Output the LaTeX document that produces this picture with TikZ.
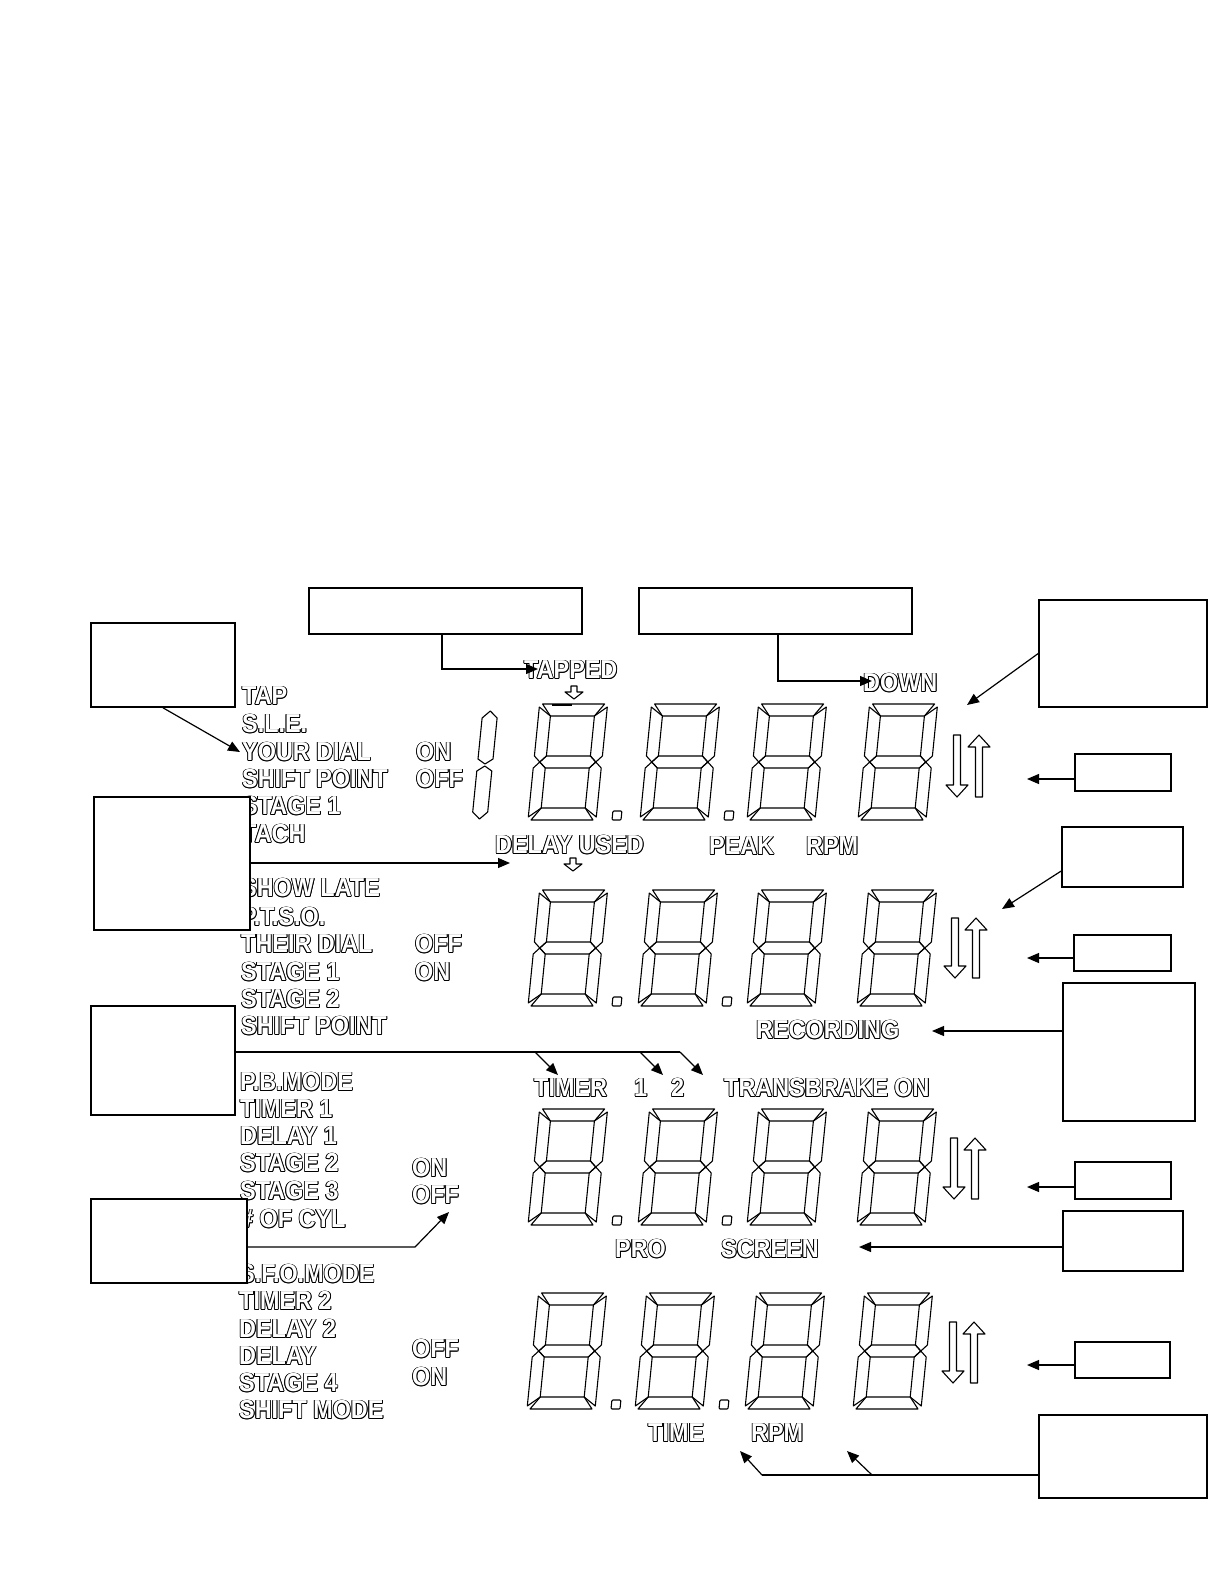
\documentclass[tikz,border=0pt]{standalone}
\usepackage{fontspec}
\usetikzlibrary{arrows.meta}
\newfontfamily\lcdfont[FakeStretch=0.9]{Liberation Sans}
\newcommand\olt[1]{{\setbox0\hbox{#1}%
\rlap{\kern-.9pt\copy0}\rlap{\kern.9pt\copy0}\rlap{\raise.9pt\copy0}\rlap{\raise-.9pt\copy0}%
\rlap{\kern-.65pt\raise.65pt\copy0}\rlap{\kern.65pt\raise.65pt\copy0}%
\rlap{\kern-.65pt\raise-.65pt\copy0}\rlap{\kern.65pt\raise-.65pt\copy0}%
\textcolor{white}{\copy0}}}
\tikzset{
  lcd/.style={font=\lcdfont\bfseries\fontsize{26}{26}\selectfont, anchor=west, inner sep=0pt, text height=17.9pt, text depth=0pt},
  seg/.style={line width=1.1pt, line join=round},
  box/.style={draw, line width=1.6pt, fill=white, inner sep=0pt},
  conn/.style={line width=1.2pt, -{Triangle[length=12pt,width=10pt]}},
  plain/.style={line width=1.2pt}
}
% seven segment digit, bottom-left at (#1,#2)
\newcommand\lcddig[2]{%
\begin{scope}[shift={(#1,#2)},xslant=0.1,yscale=-1]
\draw[seg] (3,116)--(65,116)--(56,104)--(12,104)--cycle;
\draw[seg] (3,0)--(65,0)--(56,12)--(12,12)--cycle;
\draw[seg] (0,113)--(12,104)--(12,64)--(6,58)--(0,64)--cycle;
\draw[seg] (68,113)--(56,104)--(56,64)--(62,58)--(68,64)--cycle;
\draw[seg] (0,3)--(12,12)--(12,52)--(6,58)--(0,52)--cycle;
\draw[seg] (68,3)--(56,12)--(56,52)--(62,58)--(68,52)--cycle;
\draw[seg] (6,58)--(12,64)--(56,64)--(62,58)--(56,52)--(12,52)--cycle;
\end{scope}}
\newcommand\lcddp[2]{%
\begin{scope}[shift={(#1,#2)},xslant=0.1,yscale=-1]
\draw[seg,rounded corners=1pt] (84,0) rectangle (93,9);
\end{scope}}
\newcommand\lcdone[2]{%
\begin{scope}[shift={(#1,#2)},xslant=0.1,yscale=-1]
\draw[seg] (7.5,108)--(15,101)--(15,60)--(7.5,55)--(0,60)--(0,101)--cycle;
\draw[seg] (7.5,53)--(15,48)--(15,7)--(7.5,0)--(0,7)--(0,48)--cycle;
\end{scope}}
% hollow down / up arrows: xdown, xup, ytop, ybottom
\newcommand\updn[4]{%
\draw[seg] (#1-3.5,#3)--(#1+3.5,#3)--(#1+3.5,#4-12)--(#1+11,#4-12)--(#1,#4)--(#1-11,#4-12)--(#1-3.5,#4-12)--cycle;
\draw[seg] (#2-3.5,#4)--(#2+3.5,#4)--(#2+3.5,#3+12)--(#2+11,#3+12)--(#2,#3)--(#2-11,#3+12)--(#2-3.5,#3+12)--cycle;}
\newcommand\smdn[2]{%
\draw[seg] (#1-3,#2)--(#1+3,#2)--(#1+3,#2+6)--(#1+9,#2+6)--(#1,#2+13)--(#1-9,#2+6)--(#1-3,#2+6)--cycle;}
\begin{document}
\begin{tikzpicture}[x=1pt,y=-1pt]
\useasboundingbox[fill=white] (0,0) rectangle (1224,1584);

% ---------- LCD digits ----------
\lcdone{472}{819}
\foreach \x in {528,640,747,858} {\lcddig{\x}{820}}
\lcddp{528}{820}\lcddp{640}{820}
\draw[line width=2.2pt] (552,705)--(572,705);
\updn{957}{979}{735}{797}

\foreach \x in {528,638,747,857} {\lcddig{\x}{1006}}
\lcddp{528}{1006}\lcddp{638}{1006}
\updn{955}{976}{918}{978}

\foreach \x in {528,638,747,857} {\lcddig{\x}{1225}}
\lcddp{528}{1225}\lcddp{638}{1225}
\updn{954}{975}{1138}{1199}

\foreach \x in {527,635,745,853} {\lcddig{\x}{1409}}
\lcddp{527}{1409}\lcddp{635}{1409}
\updn{953}{974}{1322}{1383}

\smdn{574}{686}
\smdn{573}{858}

% ---------- left lists ----------
\node[lcd] (l1a) at (242,696) {\olt{TAP}};
\node[lcd] (l1b) at (242,724) {\olt{S.L.E.}};
\node[lcd] (l1c) at (242,752) {\olt{YOUR DIAL}};
\node[lcd] (l1d) at (242,779) {\olt{SHIFT POINT}};
\node[lcd] (l1e) at (242,806) {\olt{STAGE 1}};
\node[lcd] (l1f) at (242,834) {\olt{TACH}};
\node[lcd] (o1a) at (416,752) {\olt{ON}};
\node[lcd] (o1b) at (416,779) {\olt{OFF}};

\node[lcd] (l2a) at (241,888) {\olt{SHOW LATE}};
\node[lcd] (l2b) at (241,917) {\olt{P.T.S.O.}};
\node[lcd] (l2c) at (241,944) {\olt{THEIR DIAL}};
\node[lcd] (l2d) at (241,972) {\olt{STAGE 1}};
\node[lcd] (l2e) at (241,999) {\olt{STAGE 2}};
\node[lcd] (l2f) at (241,1026) {\olt{SHIFT POINT}};
\node[lcd] (o2a) at (415,944) {\olt{OFF}};
\node[lcd] (o2b) at (415,972) {\olt{ON}};

\node[lcd] (l3a) at (240,1082) {\olt{P.B.MODE}};
\node[lcd] (l3b) at (240,1109) {\olt{TIMER 1}};
\node[lcd] (l3c) at (240,1136) {\olt{DELAY 1}};
\node[lcd] (l3d) at (240,1163) {\olt{STAGE 2}};
\node[lcd] (l3e) at (240,1191) {\olt{STAGE 3}};
\node[lcd] (l3f) at (240,1219) {\olt{\# OF CYL}};
\node[lcd] (o3a) at (412,1168) {\olt{ON}};
\node[lcd] (o3b) at (412,1195) {\olt{OFF}};

\node[lcd] (l4a) at (239,1274) {\olt{S.F.O.MODE}};
\node[lcd] (l4b) at (239,1301) {\olt{TIMER 2}};
\node[lcd] (l4c) at (239,1329) {\olt{DELAY 2}};
\node[lcd] (l4d) at (239,1356) {\olt{DELAY}};
\node[lcd] (l4e) at (239,1383) {\olt{STAGE 4}};
\node[lcd] (l4f) at (239,1410) {\olt{SHIFT MODE}};
\node[lcd] (o4a) at (412,1349) {\olt{OFF}};
\node[lcd] (o4b) at (412,1377) {\olt{ON}};

% ---------- display labels ----------
\node[lcd] (tapped) at (524,670) {\olt{TAPPED}};
\node[lcd] (down) at (863,683) {\olt{DOWN}};
\node[lcd] (delayused) at (495,845) {\olt{DELAY USED}};
\node[lcd] (peak) at (709,846) {\olt{PEAK}};
\node[lcd] (rpm1) at (806,846) {\olt{RPM}};
\node[lcd] (recording) at (756,1030) {\olt{RECORDING}};
\node[lcd] (timer) at (534,1088) {\olt{TIMER}};
\node[lcd] (one) at (634,1088) {\olt{1}};
\node[lcd] (two) at (671,1088) {\olt{2}};
\node[lcd] (transbrake) at (724,1088) {\olt{TRANSBRAKE ON}};
\node[lcd] (pro) at (615,1249) {\olt{PRO}};
\node[lcd] (screen) at (721,1249) {\olt{SCREEN}};
\node[lcd] (time) at (648,1433) {\olt{TIME}};
\node[lcd] (rpm2) at (751,1433) {\olt{RPM}};

% ---------- empty callout boxes ----------
\node[box, minimum width=144pt, minimum height=84pt] (A) at (163,665) {};
\node[box, minimum width=273pt, minimum height=46pt] (B) at (445.5,611) {};
\node[box, minimum width=273pt, minimum height=46pt] (C) at (775.5,611) {};
\node[box, minimum width=168pt, minimum height=107pt] (D) at (1123,653.5) {};
\node[box, minimum width=96pt, minimum height=37pt] (E1) at (1123,772.5) {};
\node[box, minimum width=121pt, minimum height=60pt] (F) at (1122.5,857) {};
\node[box, minimum width=97pt, minimum height=36pt] (E2) at (1122.5,953) {};
\node[box, minimum width=132pt, minimum height=138pt] (G) at (1129,1052) {};
\node[box, minimum width=96pt, minimum height=37pt] (E3) at (1123,1180.5) {};
\node[box, minimum width=120pt, minimum height=60pt] (H) at (1123,1241) {};
\node[box, minimum width=95pt, minimum height=36pt] (E4) at (1122.5,1360) {};
\node[box, minimum width=168pt, minimum height=83pt] (I) at (1123,1456.5) {};
\node[box, minimum width=156pt, minimum height=133pt] (J) at (172,863.5) {};
\node[box, minimum width=144pt, minimum height=109pt] (K) at (163,1060.5) {};
\node[box, minimum width=156pt, minimum height=84pt] (L) at (169,1241) {};

% ---------- connectors ----------
\coordinate (a1) at (240,752);
\draw[conn] (A.south) -- (a1);
\coordinate (b1) at (442,669); \coordinate (b2) at (538,669);
\draw[conn] (B.south -| b1) -- (b1) -- (b2);
\coordinate (c1) at (778,681); \coordinate (c2) at (872,681);
\draw[conn] (C.south -| c1) -- (c1) -- (c2);
\coordinate (d1) at (967,705);
\draw[conn] (D.west) -- (d1);
\coordinate (e1) at (1027,779);
\draw[conn] (E1.west |- e1) -- (e1);
\coordinate (f1) at (1002,909);
\draw[conn] ([yshift=-14pt]F.west) -- (f1);
\coordinate (e2) at (1027,958);
\draw[conn] (E2.west |- e2) -- (e2);
\coordinate (g1) at (932,1031);
\draw[conn] (G.west |- g1) -- (g1);
\coordinate (e3) at (1027,1187);
\draw[conn] (E3.west |- e3) -- (e3);
\coordinate (h1) at (859,1247);
\draw[conn] (H.west |- h1) -- (h1);
\coordinate (e4) at (1027,1365);
\draw[conn] (E4.west |- e4) -- (e4);
\coordinate (i0) at (762,1475); \coordinate (i1) at (872,1475);
\coordinate (it1) at (740,1451); \coordinate (it2) at (847,1451);
\draw[plain] (I.west |- i0) -- (i0);
\draw[conn] (i0) -- (it1);
\draw[conn] (i1) -- (it2);
\coordinate (j1) at (510,863);
\draw[conn] (J.east |- j1) -- (j1);
\coordinate (k0) at (680,1052); \coordinate (k1) at (535,1052); \coordinate (k2) at (640,1052);
\coordinate (kt1) at (558,1075); \coordinate (kt2) at (663,1075); \coordinate (kt3) at (703,1075);
\draw[plain] (K.east |- k0) -- (k0);
\draw[conn] (k1) -- (kt1);
\draw[conn] (k2) -- (kt2);
\draw[conn] (k0) -- (kt3);
\coordinate (l0) at (415,1247); \coordinate (l1) at (449,1212);
\draw[conn] (L.east |- l0) -- (l0) -- (l1);
\end{tikzpicture}
\end{document}
